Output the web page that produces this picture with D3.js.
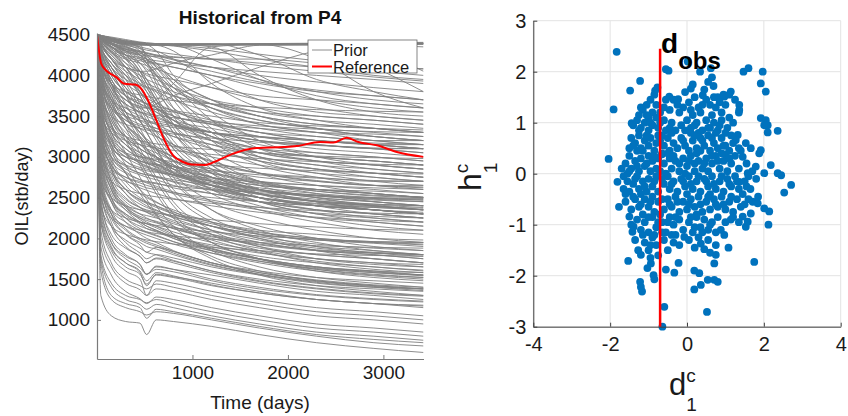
<!DOCTYPE html>
<html><head><meta charset="utf-8">
<script src="https://cdn.jsdelivr.net/npm/d3@7"></script>
<style>
html,body{margin:0;padding:0;background:#fff;}
svg{display:block;font-family:"Liberation Sans",Arial,Helvetica,sans-serif;}
</style></head>
<body>
<svg id="chart" width="848" height="416"></svg>
<script>
// ---------- DATA ----------
const timeDays = [0, 40, 150, 300, 450, 520, 620, 800, 1200, 1700, 2300, 2900, 3420];

const priorCurves = [
 [4500,4490,4460,4420,4400,4395,4390,4385,4385,4390,4395,4400,4405],
 [4490,4480,4450,4410,4390,4385,4380,4378,4380,4385,4390,4395,4400],
 [4480,4470,4440,4400,4380,4375,4372,4370,4375,4380,4385,4390,4390],
 [4500,4470,4420,4390,4375,4372,4370,4372,4378,4385,4390,4392,4395],
 [4470,4450,4420,4395,4385,4380,4380,4380,4382,4384,4380,4370,4350],
 [4500,4480,4440,4400,4380,4375,4370,4300,3900,3600,3450,3350,3300],
 [4500,4470,4420,4390,4380,4380,4380,4380,4350,4000,3700,3550,3500],
 [4500,4480,4450,4420,4400,4390,4385,4380,4380,4380,4200,3800,3600],
 [4500,4490,4460,4430,4400,4380,4300,4000,3700,3500,3350,3250,3200],
 [4500,4480,4440,4400,4390,4385,4380,4370,4200,3950,3750,3650,3600],
 [4500,4470,4420,4380,4370,4370,4370,4370,4370,4370,4370,4100,3800],
 [4500,4485,4450,4410,4380,4200,3900,3600,3400,3250,3150,3100,3050],
 [4500,4480,4440,4400,4350,4250,4100,3850,3600,3450,3350,3300,3250],
 [4500,4300,4000,3800,3700,3650,3700,3900,4350,4380,4385,4390,4390],
 [4500,4400,4200,4100,4050,4050,4080,4150,4250,4370,4380,4385,4385],
 [4500,4200,3900,3700,3600,3600,3650,3750,3900,4100,4300,4380,4390],
 [4500,4480,4450,4420,4400,4390,4380,4360,4300,4200,4100,4000,3950],
 [4500,4470,4420,4370,4330,4310,4290,4260,4200,4120,4050,3980,3930],
 [4500,4460,4400,4340,4290,4270,4240,4190,4100,4000,3920,3850,3800],
 [4500,4490,4470,4440,4410,4400,4390,4370,4330,4260,4180,4120,4080],
 [4500,4450,4380,4320,4270,4250,4220,4160,4050,3920,3820,3750,3700],
 [4500,4480,4450,4420,4400,4390,4385,4380,4380,4380,4380,4380,4380],
 [4500,4470,4430,4400,4390,4390,4390,4390,4390,4250,3950,3800,3700],
 [4500,4480,4440,4410,4395,4390,4385,4382,4382,4382,4382,4300,4050],
 [4500,4450,4350,4250,4200,4180,4150,4100,4000,3900,3800,3750,3700],
 [4500,4430,4300,4150,4050,4000,3950,3850,3700,3600,3500,3450,3400],
 [4500,4420,4280,4200,4150,4120,4080,4000,3850,3700,3600,3500,3450],
 [4500,4460,4380,4300,4250,4200,4100,3900,3650,3500,3400,3350,3300],
 [4500,4400,4250,4100,4000,3950,3900,3800,3650,3500,3400,3350,3300],
 [4500,4440,4320,4250,4220,4200,4180,4150,4100,4050,4000,3950,3900],
 [4500,4470,4400,4350,4300,4280,4250,4200,4100,3950,3800,3700,3650],
 [4500,4380,4200,4050,3950,3900,3850,3750,3600,3450,3350,3250,3200],
 [4500,4450,4350,4300,4250,4200,4120,3950,3700,3550,3450,3400,3350],
 [4500,4400,4220,4100,4050,4020,3990,3950,3850,3750,3700,3650,3600],
 [4500,4460,4360,4250,4150,4080,4000,3850,3600,3400,3300,3200,3150],
 [4500,4480,4420,4380,4350,4330,4300,4200,3950,3700,3550,3500,3450],
 [4500,4350,4150,4000,3900,3860,3820,3750,3650,3550,3500,3450,3400],
 [4500,4420,4300,4220,4180,4160,4140,4100,4000,3850,3700,3600,3550],
 [4500,4470,4400,4330,4250,4150,4000,3750,3450,3300,3200,3150,3100],
 [4500,4440,4340,4280,4250,4240,4230,4220,4200,4150,4100,4050,4000],
 [4500,4460,4380,4320,4290,4270,4250,4230,4200,4200,4150,4100,4080],
 [4500,4300,4100,3950,3880,3850,3800,3700,3550,3400,3300,3250,3200],
 [4500,4100,3900,3800,3760,3740,3720,3690,3650,3610,3580,3560,3550],
 [4500,3900,3700,3600,3550,3530,3510,3480,3430,3380,3340,3310,3300],
 [4500,3800,3600,3500,3450,3430,3400,3360,3300,3240,3200,3170,3150],
 [4500,3700,3500,3400,3350,3330,3310,3280,3230,3180,3140,3110,3100],
 [4500,4450,4350,4200,3950,3800,3600,3300,2900,2650,2500,2400,2350],
 [4500,4420,4300,4100,3800,3650,3450,3150,2800,2600,2450,2350,2300],
 [4500,4470,4400,4300,4150,4050,3850,3500,3000,2700,2550,2450,2400],
 [4500,4480,4420,4350,4250,4150,4000,3700,3200,2900,2750,2650,2600],
 [4500,4400,4250,4050,3750,3600,3400,3100,2700,2450,2300,2200,2150],
 [4500,4450,4380,4280,4100,3950,3750,3400,2950,2700,2600,2550,2500],
 [4500,4350,4150,3900,3600,3450,3250,2950,2600,2400,2250,2150,2100],
 [4500,4460,4390,4300,4200,4120,3950,3600,3100,2800,2650,2550,2500],
 [4500,4480,4440,4380,4300,4200,4050,3800,3350,3000,2850,2750,2700],
 [4500,4300,4050,3750,3450,3300,3100,2800,2450,2250,2100,2000,1950],
 [4500,4400,4200,3950,3650,3500,3300,3000,2650,2450,2300,2250,2200],
 [4500,4470,4400,4320,4220,4150,4020,3750,3300,2950,2800,2700,2650],
 [4500,4440,4350,4220,4000,3850,3650,3300,2850,2550,2400,2300,2250],
 [4500,4250,3950,3650,3350,3200,3000,2700,2350,2150,2000,1900,1850],
 [4500,4380,4200,4000,3750,3600,3400,3100,2750,2550,2450,2400,2350],
 [4500,4480,4430,4360,4280,4230,4150,3950,3550,3200,3000,2900,2850],
 [4500,4460,4380,4250,4050,3900,3700,3350,2900,2600,2450,2350,2300],
 [4500,4320,4100,3850,3550,3400,3200,2900,2550,2350,2200,2100,2050],
 [4500,4420,4280,4100,3850,3700,3500,3200,2800,2500,2350,2250,2200],
 [4500,4490,4460,4410,4330,4260,4150,3900,3450,3100,2950,2850,2800],
 [4500,4200,3850,3500,3200,3050,2850,2550,2200,2000,1850,1750,1700],
 [4500,4100,3700,3350,3050,2900,2700,2400,2050,1850,1700,1620,1580],
 [4500,4350,4100,3800,3450,3300,3100,2750,2350,2100,1950,1850,1800],
 [4500,4000,3550,3200,2900,2750,2550,2250,1950,1750,1600,1520,1480],
 [4500,3900,3400,3050,2750,2600,2400,2150,1850,1650,1520,1450,1400],
 [4500,4150,3750,3400,3100,2950,2750,2450,2100,1900,1750,1680,1650],
 [4500,4250,3900,3550,3250,3100,2900,2600,2250,2050,1900,1820,1780],
 [4500,3800,3250,2900,2600,2480,2300,2050,1750,1550,1420,1350,1300],
 [4500,4050,3600,3250,2950,2800,2600,2300,1950,1750,1620,1550,1520],
 [4500,3700,3150,2800,2550,2430,2280,2050,1780,1600,1480,1420,1380],
 [4500,4200,3900,3700,3600,3550,3500,3400,3250,3100,3000,2950,2900],
 [4500,4300,4050,3850,3700,3650,3550,3400,3200,3050,2950,2900,2850],
 [4500,4100,3800,3600,3500,3450,3400,3300,3150,3000,2900,2850,2800],
 [4500,4380,4200,4000,3800,3700,3600,3450,3300,3200,3150,3100,3100],
 [4500,4000,3700,3500,3400,3380,3350,3300,3200,3100,3050,3000,2950],
 [4500,4250,3950,3750,3650,3600,3550,3450,3350,3250,3200,3150,3150],
 [4500,4420,4280,4100,3900,3800,3650,3450,3200,3000,2900,2800,2750],
 [4500,4150,3850,3700,3620,3600,3580,3550,3450,3350,3250,3200,3150],
 [4500,4350,4150,3950,3800,3700,3600,3450,3250,3100,3000,2950,2900],
 [4500,4050,3750,3550,3450,3400,3350,3250,3100,2950,2850,2800,2750],
 [4500,4440,4330,4150,3950,3850,3700,3500,3300,3150,3050,3000,2950],
 [4500,4200,3850,3650,3550,3500,3450,3400,3300,3250,3200,3150,3100],
 [4500,3950,3650,3450,3350,3300,3250,3150,3000,2900,2800,2750,2700],
 [4500,4300,4000,3800,3700,3650,3600,3500,3400,3300,3250,3200,3200],
 [4500,4100,3800,3650,3550,3520,3480,3400,3300,3200,3100,3050,3000],
 [4500,4450,4350,4200,4050,3950,3800,3550,3250,3050,2950,2900,2850],
 [4500,4250,3950,3750,3650,3620,3580,3500,3400,3350,3300,3280,3250],
 [4500,3900,3600,3450,3380,3350,3320,3250,3150,3050,3000,2950,2900],
 [4500,4350,4100,3900,3780,3720,3660,3560,3420,3300,3200,3150,3100],
 [4500,4150,3900,3750,3680,3650,3620,3570,3500,3420,3380,3350,3330],
 [4500,4480,4400,4250,4050,3900,3700,3400,3100,2950,2850,2800,2750],
 [4500,4000,3700,3550,3480,3450,3420,3380,3300,3200,3150,3100,3050],
 [4500,3500,3300,3200,3150,3130,3110,3080,3030,2980,2940,2910,2900],
 [4500,3300,3100,3000,2950,2930,2910,2880,2830,2780,2740,2710,2700],
 [4500,3600,3350,3250,3200,3180,3160,3130,3090,3050,3010,2990,2980],
 [4500,3400,3150,3050,3000,2990,2970,2940,2900,2860,2830,2800,2790],
 [4500,3200,3000,2900,2850,2830,2810,2780,2740,2690,2650,2620,2600],
 [4500,3800,3400,3200,3100,3050,3000,2900,2750,2600,2500,2450,2400],
 [4500,3600,3200,3000,2950,2920,2880,2800,2650,2500,2400,2350,2300],
 [4500,4000,3500,3250,3100,3050,3000,2900,2700,2550,2450,2400,2350],
 [4500,3700,3300,3100,3000,2980,2950,2880,2800,2700,2650,2600,2550],
 [4500,3500,3100,2900,2800,2780,2750,2700,2600,2500,2400,2350,2300],
 [4500,4200,3800,3500,3300,3200,3100,2950,2750,2600,2500,2450,2400],
 [4500,3900,3450,3250,3150,3100,3050,2950,2850,2750,2700,2650,2650],
 [4500,3400,3000,2850,2780,2750,2720,2650,2550,2450,2350,2300,2250],
 [4500,4100,3650,3400,3250,3180,3100,3000,2850,2700,2600,2550,2500],
 [4500,3750,3350,3150,3050,3000,2950,2850,2700,2550,2450,2400,2350],
 [4500,3600,3250,3050,2950,2920,2900,2850,2750,2650,2600,2550,2500],
 [4500,4300,3900,3550,3300,3200,3050,2850,2600,2450,2350,2300,2250],
 [4500,3300,2950,2800,2720,2700,2680,2620,2550,2450,2400,2350,2300],
 [4500,3850,3400,3150,3000,2950,2900,2800,2650,2500,2400,2350,2300],
 [4500,3550,3150,2950,2870,2850,2820,2780,2700,2620,2550,2500,2480],
 [4500,4050,3600,3350,3200,3150,3100,3000,2900,2800,2750,2700,2700],
 [4500,3200,2900,2750,2680,2650,2620,2550,2450,2350,2250,2200,2150],
 [4500,3950,3500,3250,3100,3050,2980,2880,2750,2650,2600,2580,2550],
 [4500,3650,3200,3000,2900,2870,2840,2770,2650,2550,2480,2420,2400],
 [4500,4150,3700,3400,3200,3100,3000,2850,2650,2500,2400,2350,2320],
 [4500,3450,3050,2880,2800,2780,2760,2720,2650,2580,2520,2480,2450],
 [4500,3800,3300,3050,2920,2880,2830,2750,2620,2500,2420,2380,2350],
 [4500,3650,3300,3100,2980,2930,2870,2780,2650,2540,2460,2410,2380],
 [4500,3950,3550,3300,3150,3080,3000,2880,2720,2600,2520,2470,2450],
 [4500,3350,3000,2820,2720,2680,2640,2570,2470,2380,2310,2270,2250],
 [4500,4150,3750,3480,3300,3220,3130,3000,2820,2680,2580,2520,2500],
 [4500,3500,3150,2950,2840,2800,2760,2690,2590,2500,2430,2390,2370],
 [4500,3850,3450,3200,3050,2990,2920,2810,2660,2540,2460,2420,2400],
 [4500,4050,3650,3400,3230,3160,3080,2960,2800,2670,2580,2530,2510],
 [4500,3250,2900,2720,2620,2590,2550,2490,2400,2320,2260,2220,2200],
 [4500,3750,3380,3150,3020,2970,2910,2820,2700,2600,2530,2490,2470],
 [4500,4250,3900,3620,3430,3350,3260,3120,2940,2800,2710,2650,2630],
 [4500,3550,3220,3030,2930,2890,2850,2780,2680,2590,2530,2490,2470],
 [4500,4350,4050,3750,3520,3420,3310,3150,2950,2800,2700,2650,2620],
 [4500,3000,2800,2700,2650,2620,2600,2560,2500,2450,2400,2380,2350],
 [4500,2900,2700,2600,2550,2530,2510,2480,2430,2380,2340,2310,2300],
 [4500,2700,2500,2400,2350,2330,2310,2280,2230,2180,2140,2110,2100],
 [4500,3100,2850,2750,2700,2690,2670,2640,2600,2560,2530,2500,2490],
 [4500,2600,2350,2250,2200,2180,2160,2130,2080,2030,1990,1960,1950],
 [4500,2500,2250,2150,2100,2080,2060,2030,1990,1950,1910,1890,1880],
 [4500,2400,2150,2050,2000,1980,1960,1930,1890,1850,1810,1790,1780],
 [4500,3200,2700,2450,2350,2320,2280,2200,2050,1900,1800,1750,1700],
 [4500,3000,2600,2400,2300,2280,2250,2180,2050,1950,1850,1800,1750],
 [4500,3500,2900,2600,2450,2400,2350,2250,2100,1950,1850,1800,1750],
 [4500,2800,2450,2300,2200,2180,2150,2080,1950,1850,1750,1700,1650],
 [4500,3300,2800,2550,2420,2380,2340,2270,2150,2050,1980,1940,1900],
 [4500,3100,2650,2420,2300,2250,2200,2120,2000,1880,1800,1750,1700],
 [4500,3600,3000,2700,2550,2500,2440,2350,2200,2080,2000,1950,1920],
 [4500,2900,2500,2300,2200,2150,2100,2020,1900,1780,1700,1650,1600],
 [4500,3400,2850,2600,2480,2440,2400,2320,2200,2100,2050,2000,1980],
 [4500,2700,2350,2200,2100,2070,2030,1960,1850,1750,1650,1600,1550],
 [4500,3150,2700,2480,2380,2350,2320,2260,2150,2050,1980,1950,1930],
 [4500,3700,3100,2800,2600,2520,2450,2330,2150,2000,1900,1850,1800],
 [4500,2600,2300,2150,2070,2040,2000,1930,1820,1720,1630,1580,1550],
 [4500,3250,2750,2500,2380,2340,2300,2220,2100,1980,1880,1830,1800],
 [4500,3000,2550,2350,2250,2220,2190,2120,2020,1920,1850,1820,1800],
 [4500,3550,2950,2650,2500,2450,2400,2300,2150,2020,1930,1880,1850],
 [4500,2850,2450,2250,2150,2120,2090,2020,1920,1820,1750,1700,1680],
 [4500,3350,2850,2600,2470,2430,2380,2300,2180,2070,2000,1960,1950],
 [4500,2950,2500,2280,2180,2120,2080,2000,1870,1750,1650,1600,1580],
 [4500,3100,2600,2380,2270,2240,2210,2140,2030,1930,1860,1820,1800],
 [4500,2900,2450,2200,2050,2000,1950,1850,1700,1580,1480,1420,1380],
 [4500,3100,2600,2350,2200,2150,2100,2000,1850,1720,1620,1560,1520],
 [4500,2700,2300,2100,1980,1940,1900,1820,1680,1560,1460,1400,1360],
 [4500,3300,2700,2400,2250,2200,2150,2050,1880,1750,1650,1590,1550],
 [4500,2800,2350,2120,2000,1960,1920,1840,1700,1580,1490,1430,1400],
 [4500,3400,2850,2550,2380,2320,2260,2150,1980,1830,1720,1650,1610],
 [4500,2550,2150,1980,1880,1830,1800,1730,1600,1480,1390,1330,1300],
 [4500,3000,2500,2250,2120,2080,2040,1960,1820,1700,1600,1540,1500],
 [4500,2650,2250,2050,1950,1900,1870,1800,1670,1560,1470,1410,1380],
 [4500,3200,2650,2380,2230,2180,2130,2030,1870,1740,1640,1580,1540],
 [4500,2450,2050,1880,1780,1700,1750,1700,1580,1470,1380,1320,1290],
 [4500,2350,1950,1780,1680,1560,1660,1620,1500,1400,1310,1260,1230],
 [4500,2250,1880,1700,1600,1480,1580,1540,1430,1330,1250,1200,1170],
 [4500,2500,2000,1800,1680,1560,1650,1620,1550,1450,1350,1300,1250],
 [4500,2300,1900,1700,1580,1420,1560,1530,1450,1350,1250,1200,1150],
 [4500,2700,2200,1950,1820,1750,1800,1760,1650,1550,1450,1400,1380],
 [4500,2200,1800,1600,1500,1300,1480,1450,1350,1250,1150,1100,1050],
 [4500,2000,1650,1450,1370,1300,1380,1350,1250,1150,1050,1000,950],
 [4500,2400,1950,1750,1640,1560,1620,1590,1480,1380,1300,1250,1220],
 [4500,2600,2150,1900,1780,1700,1760,1720,1600,1500,1420,1380,1350],
 [4500,1900,1550,1350,1260,1200,1280,1250,1150,1050,950,900,850],
 [4500,2100,1700,1500,1420,1380,1440,1400,1300,1200,1100,1050,1000],
 [4500,2800,2300,2050,1920,1830,1890,1840,1700,1600,1520,1480,1450],
 [4500,1750,1400,1250,1190,1130,1190,1150,1050,950,850,800,750],
 [4500,1600,1250,1150,1100,1060,1100,1080,1000,900,800,720,680],
 [4500,1300,1050,980,960,820,1000,980,920,820,720,650,600],
 [4500,1700,1300,1200,1150,1020,1130,1100,1020,920,820,760,720],
 [4500,2200,1850,1650,1560,1440,1550,1520,1420,1330,1250,1200,1180],
 [4500,1800,1450,1300,1250,1210,1250,1200,1100,1000,900,850,800]
];

const referenceTimes = [0,45,97,202,290,395,465,535,622,692,797,902,990,1130,1253,1427,1672,1952,2092,2336,2476,2616,2738,2931,3141,3420];
const referenceOil   = [4500,4141,4060,3978,3897,3888,3835,3692,3448,3243,3019,2937,2905,2901,2950,3040,3109,3121,3133,3182,3175,3236,3182,3142,3060,3000];

const leftXTicks = [1000, 2000, 3000];
const leftYTicks = [1000, 1500, 2000, 2500, 3000, 3500, 4000, 4500];
const legendLabels = ["Prior", "Reference"];

const scatterPoints = [
 [-1.83,2.39],[-1.91,1.26],[-2.04,0.29],[-1.22,1.82],[-1.48,1.63],[-1.44,0.99],[-1.81,-0.16],
 [-0.83,1.63],[-0.77,1.69],[-0.55,2.05],[-0.48,2.02],[-0.46,1.51],[-0.23,1.46],[0.02,2.2],
 [0.34,2.0],[0.62,2.07],[0.65,1.89],[0.69,1.72],[0.10,1.67],[0.41,1.54],[1.47,2.0],[1.6,2.07],
 [1.97,2.0],[1.92,1.77],[2.05,1.61],[1.14,1.61],[0.97,1.51],[0.8,1.5],[1.36,1.35],[1.36,1.25],
 [1.92,1.09],[2.05,1.05],[2.1,0.95],[2.01,0.95],[2.1,0.81],[2.36,0.84],[1.53,0.6],[1.66,0.5],
 [1.32,0.76],[1.27,0.66],[1.88,0.4],[1.92,0.46],[1.79,0.14],[2.01,0.01],[2.18,0.17],[2.36,0.01],
 [2.45,-0.03],[2.71,-0.22],[2.53,-0.37],[1.45,0.33],[1.58,0.01],[1.36,-0.16],
 [-1.77,-0.65],[-1.5,-0.84],[-1.42,-1.14],[-1.39,-1.04],[-1.53,-1.71],[-1.27,-1.5],[-1.2,-1.59],
 [-1.22,-2.12],[-1.2,-2.22],[-1.17,-2.31],[-0.87,-1.99],[-0.85,-2.07],[-0.94,-1.76],[-1.03,-1.85],
 [-0.59,-2.61],[-0.64,-3.0],[-0.55,-1.88],[-0.33,-1.94],[-0.22,-1.75],[0.19,-1.9],[0.32,-1.95],
 [0.19,-2.27],[0.36,-2.18],[0.54,-2.08],[0.71,-2.08],[0.8,-2.12],[0.52,-2.71],[1.75,-1.73],
 [1.08,-1.45],[0.75,-1.4],[0.75,-1.59],[0.71,-1.76],[0.45,-1.48],[0.36,-1.37],[-0.07,-1.24],
 [-0.2,-1.4],[2.12,-1.0],[2.14,-0.74],[2.01,-0.68],[1.53,-1.04],[1.58,-0.94],[1.45,-0.84],
 [1.66,-0.78],[0.97,-1.2],[0.88,-1.1],[1.14,-0.9],[1.71,-0.55],[1.84,-0.58],
 [0.15,1.75],[0.55,1.8],[0.45,1.65],[0.95,1.55],[-0.05,1.6],
 [-1.15,1.25],[-1.05,1.35],[-0.95,1.45],[-0.85,1.55],[-1.25,1.15],[-0.9,1.2],[-0.8,1.35],[-1.0,1.1],
 [-0.6,1.3],[-0.35,1.45],[-0.1,1.3],[0.05,1.4],[0.2,1.5],[0.3,1.3],[0.5,1.45],[0.6,1.35],[0.7,1.5],
 [0.85,1.4],[1.0,1.35],[1.1,1.55],[0.35,1.2],[-0.45,1.25],[-0.2,1.2],[0.9,1.2],[1.35,1.2],
 [-1.4,0.95],[-1.3,1.05],[-1.2,0.9],[-1.1,1.0],[-1.0,0.85],[-0.9,0.95],[-0.8,1.1],[-0.75,0.9],
 [-0.6,1.05],[-0.55,0.85],[-0.4,1.0],[-0.3,0.85],[-0.15,0.95],[0.0,1.05],[0.1,0.9],[0.25,1.0],
 [0.4,0.85],[0.5,1.05],[0.6,0.9],[0.7,1.0],[0.8,0.85],[0.9,1.05],[1.05,0.9],[1.2,1.0],[-1.05,1.15],
 [0.15,1.15],[0.65,1.15],[-0.65,0.75],[0.3,0.8],[1.0,0.8],
 [-1.5,0.5],[-1.45,0.7],[-1.35,0.6],[-1.25,0.75],[-1.2,0.5],[-1.1,0.65],[-1.0,0.55],[-0.95,0.7],
 [-0.85,0.45],[-0.8,0.6],[-0.75,0.75],[-0.6,0.55],[-0.5,0.7],[-0.45,0.45],[-0.35,0.6],[-0.25,0.5],
 [-0.15,0.7],[-0.05,0.55],[0.05,0.45],[0.15,0.65],[0.25,0.5],[0.35,0.7],[0.45,0.55],[0.55,0.75],
 [0.6,0.45],[0.7,0.6],[0.8,0.5],[0.9,0.7],[1.0,0.55],[1.1,0.45],[1.2,0.6],[-1.3,0.45],[-0.65,0.4],
 [0.1,0.8],[0.75,0.8],[1.15,0.75],
 [-1.6,0.2],[-1.5,0.35],[-1.45,0.1],[-1.35,0.25],[-1.25,0.05],[-1.2,0.3],[-1.1,0.15],[-1.0,0.35],
 [-0.95,0.05],[-0.9,0.25],[-0.8,0.1],[-0.75,0.3],[-0.6,0.2],[-0.55,0.0],[-0.45,0.3],[-0.4,0.1],
 [-0.3,0.25],[-0.2,0.05],[-0.1,0.3],[0.0,0.15],[0.1,0.35],[0.2,0.05],[0.3,0.25],[0.4,0.1],[0.5,0.3],
 [0.55,0.05],[0.65,0.2],[0.75,0.35],[0.85,0.1],[0.95,0.25],[1.05,0.05],[1.15,0.2],[1.25,0.35],
 [1.35,0.1],[-1.55,0.0],[-0.65,0.38],[0.25,0.4],[0.9,0.4],[-0.05,0.0],[1.0,0.38],
 [-1.65,-0.3],[-1.55,-0.15],[-1.5,-0.35],[-1.4,-0.2],[-1.3,-0.05],[-1.25,-0.3],[-1.15,-0.15],
 [-1.05,-0.35],[-1.0,-0.1],[-0.9,-0.25],[-0.8,-0.05],[-0.75,-0.35],[-0.6,-0.2],[-0.5,-0.05],
 [-0.45,-0.3],[-0.35,-0.15],[-0.25,-0.35],[-0.15,-0.1],[-0.05,-0.25],[0.05,-0.05],[0.15,-0.3],
 [0.25,-0.15],[0.35,-0.35],[0.45,-0.1],[0.55,-0.25],[0.65,-0.05],[0.75,-0.3],[0.85,-0.15],
 [0.95,-0.35],[1.05,-0.1],[1.15,-0.25],[1.25,-0.05],[1.35,-0.3],[1.5,-0.15],[1.65,-0.3],[1.8,-0.1],
 [-1.2,-0.4],[0.0,-0.4],[0.6,-0.4],[1.45,-0.4],
 [-1.6,-0.55],[-1.45,-0.7],[-1.35,-0.5],[-1.25,-0.65],[-1.15,-0.8],[-1.1,-0.5],[-1.0,-0.65],
 [-0.9,-0.45],[-0.85,-0.75],[-0.75,-0.55],[-0.6,-0.7],[-0.5,-0.5],[-0.4,-0.65],[-0.3,-0.45],
 [-0.2,-0.75],[-0.1,-0.55],[0.0,-0.7],[0.1,-0.5],[0.2,-0.65],[0.3,-0.45],[0.4,-0.75],[0.5,-0.55],
 [0.6,-0.7],[0.7,-0.5],[0.8,-0.65],[0.9,-0.45],[1.0,-0.7],[1.1,-0.55],[1.2,-0.75],[1.3,-0.5],
 [1.4,-0.65],[1.6,-0.5],[1.85,-0.45],[-0.7,-0.8],[0.25,-0.8],
 [-1.3,-0.9],[-1.2,-1.1],[-1.1,-0.95],[-1.0,-1.15],[-0.9,-0.85],[-0.8,-1.05],[-0.65,-0.95],
 [-0.55,-1.15],[-0.45,-0.85],[-0.35,-1.0],[-0.2,-0.9],[-0.1,-1.1],[0.05,-0.95],[0.15,-1.15],
 [0.25,-0.85],[0.35,-1.05],[0.45,-0.9],[0.55,-1.1],[0.65,-0.95],[0.75,-1.15],[0.8,-0.85],
 [1.2,-0.85],[1.35,-0.95],[-1.45,-1.0],
 [-1.35,-1.3],[-1.1,-1.35],[-1.0,-1.5],[-0.9,-1.25],[-0.8,-1.4],[-0.6,-1.3],[-0.5,-1.5],
 [-0.35,-1.35],[-0.4,-1.2],[0.05,-1.3],[0.2,-1.45],[0.3,-1.25],[0.55,-1.3],[0.6,-1.55],
 [-0.95,-1.65],[-0.75,-1.6],
 [-1.3,0.15],[-1.15,0.45],[-1.05,0.2],[-0.85,0.35],[-0.7,0.05],[-0.5,0.4],[-0.35,0.35],[-0.2,0.2],
 [0.05,0.25],[0.2,0.2],[0.35,0.45],[0.45,0.2],[0.65,0.35],[0.8,0.25],[1.1,0.3],
 [-1.35,-0.1],[-1.1,-0.25],[-0.85,-0.15],[-0.65,-0.1],[-0.4,-0.2],[-0.1,-0.15],[0.1,-0.2],
 [0.3,-0.05],[0.5,-0.15],[0.7,-0.2],[0.9,-0.05],[1.1,-0.2],[1.3,-0.15],[1.55,-0.25],
 [-1.4,-0.45],[-1.2,-0.6],[-0.95,-0.55],[-0.65,-0.5],[-0.45,-0.6],[-0.25,-0.55],[0.05,-0.6],
 [0.35,-0.6],[0.55,-0.45],[0.75,-0.6],[0.95,-0.6],[1.15,-0.45],[1.5,-0.6],
 [-1.0,-0.85],[-0.75,-0.95],[-0.5,-0.95],[-0.3,-0.85],[0.1,-0.85],[0.4,-1.15],[0.6,-1.0],[1.0,-0.95],
 [-1.2,1.3],[-0.7,1.2],[-0.55,1.45],[-0.25,1.35],[0.1,1.25],[0.4,1.35],[0.75,1.3],[1.25,1.45],
 [-1.25,0.85],[-0.95,1.0],[-0.7,1.0],[-0.45,0.9],[-0.05,0.85],[0.2,0.95],[0.55,0.9],[0.85,0.95],[1.1,1.1],
 [-1.4,0.55],[-1.05,0.75],[-0.7,0.65],[-0.4,0.8],[-0.1,0.65],[0.2,0.75],[0.4,0.65],[0.65,0.7],
 [0.95,0.55],[1.35,0.5],
 [-0.85,-1.2],[-0.65,-1.15],[-0.3,-1.2],[0.2,-1.05],[-1.15,-1.2],[-0.95,-1.4],
 [-1.5,0.05],[-1.65,-0.05],[-1.7,0.1],[-1.6,-0.4],[1.55,0.2],[1.7,0.05],[1.4,0.45],[1.6,-0.05]
];
const dObs = -0.70;
const dObsLineTop = 2.45;
const rightXTicks = [-4, -2, 0, 2, 4];
const rightYTicks = [-3, -2, -1, 0, 1, 2, 3];

// ---------- DRAW ----------
const svg = d3.select("#chart");
const FONT = '"Liberation Sans", Arial, Helvetica, sans-serif';
const fmt = d => (d < 0 ? "-" + Math.abs(d) : String(d));

// ===== Left panel =====
const L = {x0: 97, x1: 423.5, y0: 33, y1: 359};
const xL = d3.scaleLinear().domain([0, 3420]).range([L.x0, L.x1]);
const yL = d3.scaleLinear().domain([520, 4520]).range([L.y1, L.y0]);

svg.append("defs").append("clipPath").attr("id", "clipL")
  .append("rect").attr("x", L.x0).attr("y", L.y0).attr("width", L.x1 - L.x0).attr("height", L.y1 - L.y0);

const lineGen = d3.line()
  .x((d, i) => xL(timeDays[i]))
  .y(d => yL(d))
  .curve(d3.curveMonotoneX);

const gLines = svg.append("g").attr("clip-path", "url(#clipL)");
gLines.selectAll("path.prior").data(priorCurves).join("path")
  .attr("class", "prior")
  .attr("d", d => lineGen(d))
  .attr("fill", "none")
  .attr("stroke", "#808080")
  .attr("stroke-width", 0.9);

const refLine = d3.line()
  .x((d, i) => xL(referenceTimes[i]))
  .y(d => yL(d))
  .curve(d3.curveMonotoneX);
gLines.append("path").attr("d", refLine(referenceOil))
  .attr("fill", "none").attr("stroke", "#ff0000").attr("stroke-width", 2);

// axes
const axL = svg.append("g").attr("transform", `translate(${L.x0},0)`)
  .call(d3.axisLeft(yL).tickValues(leftYTicks).tickSizeInner(-4).tickSizeOuter(0).tickPadding(7).tickFormat(fmt));
const axB = svg.append("g").attr("transform", `translate(0,${L.y1})`)
  .call(d3.axisBottom(xL).tickValues(leftXTicks).tickSizeInner(-4).tickSizeOuter(0).tickPadding(7).tickFormat(fmt));
[axL, axB].forEach(a => {
  a.select(".domain").attr("stroke", "#7a7a7a").attr("stroke-width", 1.2);
  a.selectAll(".tick line").attr("stroke", "#7a7a7a");
  a.selectAll("text").attr("fill", "#1a1a1a").style("font-size", "19px").style("font-family", FONT);
});

// title
svg.append("text").attr("x", 260).attr("y", 24).attr("text-anchor", "middle")
  .style("font-size", "19px").style("font-weight", "bold").style("font-family", FONT).attr("fill", "#111")
  .text("Historical from P4");
// x label
svg.append("text").attr("x", 260).attr("y", 409).attr("text-anchor", "middle")
  .style("font-size", "19px").style("font-family", FONT).attr("fill", "#1a1a1a").text("Time (days)");
// y label
svg.append("text").attr("transform", "translate(28,196) rotate(-90)").attr("text-anchor", "middle")
  .style("font-size", "18px").style("font-family", FONT).attr("fill", "#1a1a1a").text("OIL(stb/day)");

// legend
const lg = svg.append("g");
lg.append("rect").attr("x", 308).attr("y", 40).attr("width", 109).attr("height", 33)
  .attr("fill", "#fff").attr("stroke", "#666").attr("stroke-width", 0.8);
const legendColors = ["#808080", "#ff0000"];
const legendW = [0.9, 2];
legendLabels.forEach((lab, i) => {
  const yy = 50 + i * 16.5;
  lg.append("line").attr("x1", 312).attr("x2", 332).attr("y1", yy).attr("y2", yy)
    .attr("stroke", legendColors[i]).attr("stroke-width", legendW[i]);
  lg.append("text").attr("x", 333).attr("y", yy + 6).style("font-size", "16.5px")
    .style("font-family", FONT).attr("fill", "#1a1a1a").text(lab);
});

// ===== Right panel =====
const R = {x0: 533.3, x1: 840.7, y0: 20.7, y1: 326.7};
const xR = d3.scaleLinear().domain([-4, 4]).range([R.x0, R.x1]);
const yR = d3.scaleLinear().domain([-3, 3]).range([R.y1, R.y0]);

// grid
const grid = svg.append("g");
grid.selectAll("line.gx").data(rightXTicks).join("line").attr("class", "gx")
  .attr("x1", d => xR(d)).attr("x2", d => xR(d)).attr("y1", R.y0).attr("y2", R.y1)
  .attr("stroke", "#e3e3e3").attr("stroke-width", 1);
grid.selectAll("line.gy").data(rightYTicks).join("line").attr("class", "gy")
  .attr("y1", d => yR(d)).attr("y2", d => yR(d)).attr("x1", R.x0).attr("x2", R.x1)
  .attr("stroke", "#e3e3e3").attr("stroke-width", 1);

// points
svg.append("g").selectAll("circle").data(scatterPoints).join("circle")
  .attr("cx", d => xR(d[0])).attr("cy", d => yR(d[1])).attr("r", 3.9)
  .attr("fill", "#0072BD");

// d_obs line
svg.append("line").attr("x1", xR(dObs)).attr("x2", xR(dObs)).attr("y1", yR(-3)).attr("y2", yR(dObsLineTop))
  .attr("stroke", "#ff0000").attr("stroke-width", 2.5);

const axRL = svg.append("g").attr("transform", `translate(${R.x0},0)`)
  .call(d3.axisLeft(yR).tickValues(rightYTicks).tickSizeInner(-4).tickSizeOuter(0).tickPadding(7).tickFormat(fmt));
const axRB = svg.append("g").attr("transform", `translate(0,${R.y1})`)
  .call(d3.axisBottom(xR).tickValues(rightXTicks).tickSizeInner(-4).tickSizeOuter(0).tickPadding(10).tickFormat(fmt));
[axRL, axRB].forEach(a => {
  a.select(".domain").attr("stroke", "#404040").attr("stroke-width", 1);
  a.selectAll(".tick line").attr("stroke", "#404040");
  a.selectAll("text").attr("fill", "#1a1a1a").style("font-size", "20px").style("font-family", FONT);
});

// d_obs label
const dl = svg.append("text").attr("x", xR(dObs) + 1).attr("y", 53)
  .style("font-family", FONT).style("font-weight", "bold").attr("fill", "#000");
dl.append("tspan").style("font-size", "28px").text("d");
dl.append("tspan").style("font-size", "24px").attr("dy", 16).text("obs");

// x label d_1^c
const xl = svg.append("text").attr("x", 669).attr("y", 395)
  .style("font-family", FONT).attr("fill", "#1a1a1a");
xl.append("tspan").style("font-size", "31px").text("d");
xl.append("tspan").style("font-size", "19px").attr("dy", -13).text("c");
xl.append("tspan").style("font-size", "19px").attr("dx", -9.5).attr("dy", 29).text("1");

// y label h_1^c
const yl = svg.append("text").attr("transform", "translate(481,191) rotate(-90)")
  .style("font-family", FONT).attr("fill", "#1a1a1a");
yl.append("tspan").style("font-size", "32px").text("h");
yl.append("tspan").style("font-size", "19px").attr("dy", -13).text("c");
yl.append("tspan").style("font-size", "19px").attr("dx", -9.5).attr("dy", 29).text("1");
</script>
</body></html>
